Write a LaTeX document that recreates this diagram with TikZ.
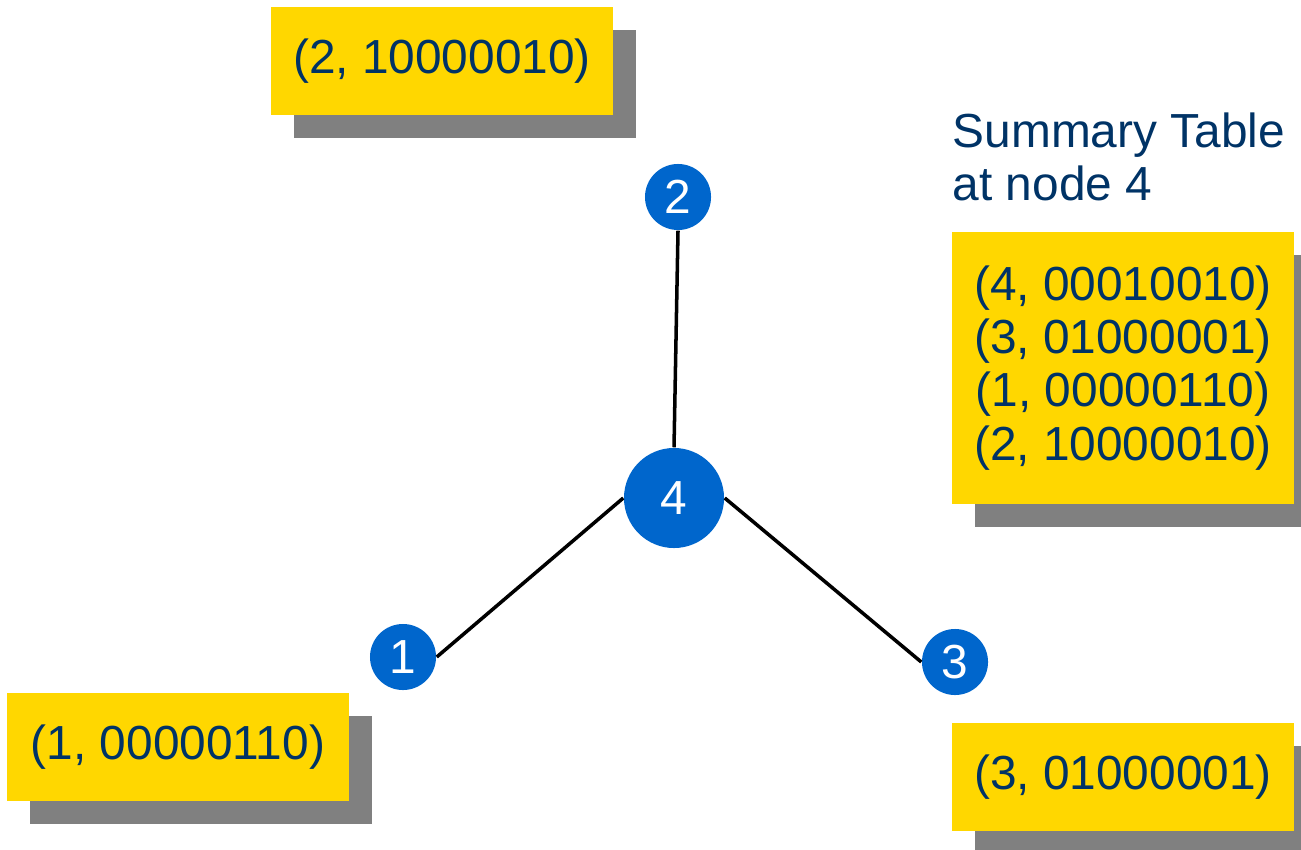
\documentclass[tikz,border=0pt]{standalone}
\usepackage{fontspec}
\setmainfont{Liberation Sans}
\usetikzlibrary{shadows}
\definecolor{nodeblue}{HTML}{0066CC}
\definecolor{boxyellow}{HTML}{FFD700}
\definecolor{shadowgray}{HTML}{808080}
\definecolor{textnavy}{HTML}{003366}
\tikzset{
    vertex/.style={circle,fill=nodeblue,text=white,minimum size=6.6mm,inner sep=0pt,font=\fontsize{13.6}{15.1}\selectfont},
    hub/.style={vertex,minimum size=10mm},
    tablebox/.style={rectangle,fill=boxyellow,text=textnavy,minimum width=34.2mm,minimum height=10.8mm,inner sep=0pt,align=center,
        general shadow={fill=shadowgray,shadow xshift=2.3mm,shadow yshift=-2.3mm},font=\fontsize{13.6}{15.1}\selectfont},
    link/.style={-,line width=1pt}
}

\begin{document}
\begin{tikzpicture}[x=0.01cm,y=-0.01cm]

                \useasboundingbox (0,0) rectangle (1301,849);

                \node[hub]    (n4) at (674,498) {4};
                \node[vertex] (n2) at (678,197) {2};
                \node[vertex] (n1) at (403,657) {1};
                \node[vertex] (n3) at (955,662) {3};

                \draw[link] (n2.south) -- (n4.north);
                \draw[link] (n4.west)  -- (n1.east);
                \draw[link] (n4.east)  -- (n3.west);

                \node[tablebox] (msg 2) at (442,61)  {(2, 10000010)};
                \node[tablebox] (msg 1) at (178,747) {(1, 00000110)};
                \node[tablebox] (msg 3) at (1123,777) {(3, 01000001)};

                \node[text=textnavy,anchor=north west,inner sep=0pt,align=left,font=\fontsize{13.6}{15.1}\selectfont]
                    (title) at (952,112) {Summary Table\\at node 4};
                \node[tablebox,minimum height=27.1mm] (summary) at (1123,368)
                    {(4, 00010010)\\(3, 01000001)\\(1, 00000110)\\(2, 10000010)};

            \end{tikzpicture}
\end{document}
